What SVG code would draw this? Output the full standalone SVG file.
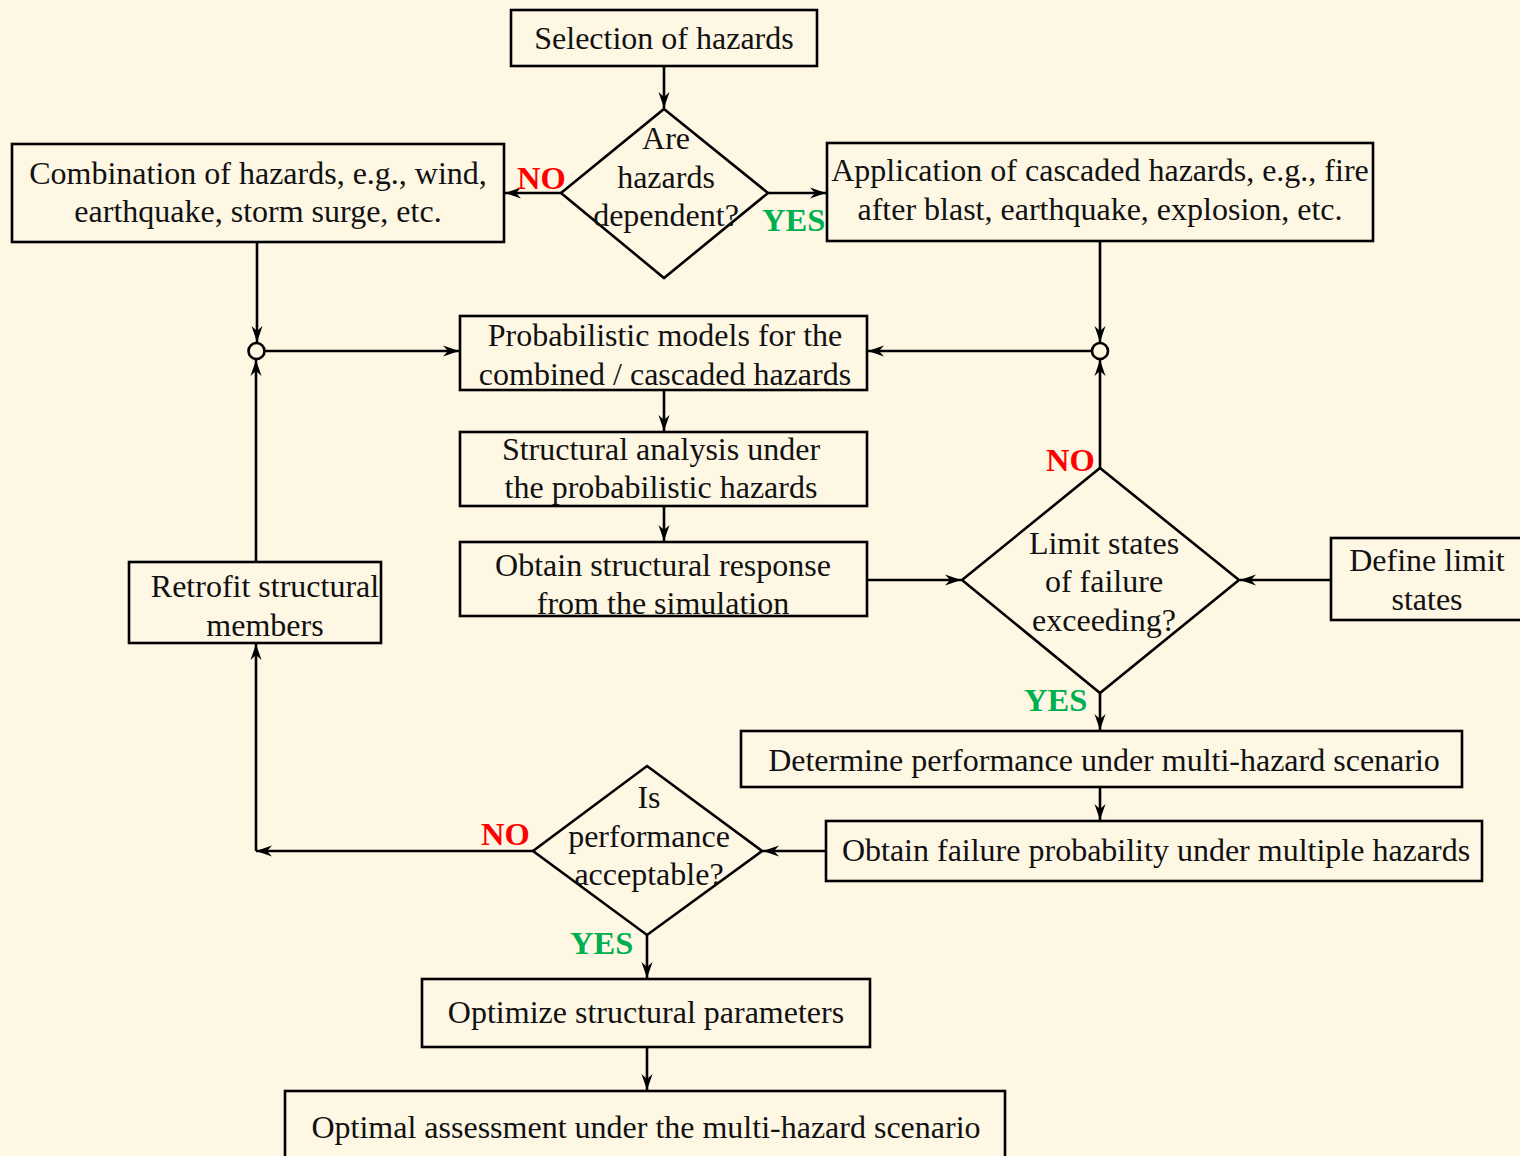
<svg xmlns="http://www.w3.org/2000/svg" width="1520" height="1156" viewBox="0 0 1520 1156">
<style>
.bx{fill:none;stroke:#000;stroke-width:2.6}
.t{font-family:"Liberation Serif","Times New Roman",serif;font-size:32px;fill:#111;text-anchor:middle}
.no{font-family:"Liberation Serif","Times New Roman",serif;font-size:32.5px;font-weight:bold;fill:#ff0000}
.yes{font-family:"Liberation Serif","Times New Roman",serif;font-size:32.5px;font-weight:bold;fill:#00b050}
.ln{fill:none;stroke:#000;stroke-width:2.6}
.ar{marker-end:url(#ah)}
</style>
<defs>
<marker id="ah" markerUnits="userSpaceOnUse" viewBox="-17 -7 18 14" refX="0" refY="0" markerWidth="18" markerHeight="14" orient="auto">
<path d="M0,0 L-16,-5.5 L-11,0 L-16,5.5 Z" fill="#000"/>
</marker>
</defs>
<rect x="0" y="0" width="1520" height="1156" fill="#fef7e4"/>
<g id="connectors">
<path class="ln ar" d="M664,66 V108"/>
<path class="ln ar" d="M561,193 H505"/>
<path class="ln ar" d="M768,193 H826"/>
<path class="ln ar" d="M257,242 V342"/>
<path class="ln ar" d="M1100,241 V342"/>
<path class="ln ar" d="M265,351 H459"/>
<path class="ln ar" d="M1091,351 H868"/>
<path class="ln ar" d="M664,390 V431"/>
<path class="ln ar" d="M664,506 V541"/>
<path class="ln ar" d="M867,580 H961"/>
<path class="ln ar" d="M1331,580 H1240"/>
<path class="ln ar" d="M1100,468 V360"/>
<path class="ln ar" d="M1100,693 V730"/>
<path class="ln ar" d="M1100,787 V820"/>
<path class="ln ar" d="M826,851 H763"/>
<path class="ln ar" d="M533,851 H256"/>
<path class="ln ar" d="M256,851 V644"/>
<path class="ln ar" d="M256,562 V360"/>
<path class="ln ar" d="M647,935 V978"/>
<path class="ln ar" d="M647,1047 V1090"/>
<circle cx="256.5" cy="351" r="8" fill="#fef7e4" stroke="#000" stroke-width="2.6"/>
<circle cx="1100" cy="351" r="8" fill="#fef7e4" stroke="#000" stroke-width="2.6"/>
</g>
<g id="n-selection"><rect class="bx" x="511" y="10" width="306" height="56"/><text class="t" x="664" y="49">Selection of hazards</text></g>
<g id="n-dependent"><polygon class="bx" points="664,109 768,193 664,278 561,193"/>
<text class="t" x="666" y="149">Are</text><text class="t" x="666" y="188">hazards</text><text class="t" x="666" y="226">dependent?</text></g>
<g id="n-combination"><rect class="bx" x="12" y="144" width="492" height="98"/>
<text class="t" x="258" y="184">Combination of hazards, e.g., wind,</text><text class="t" x="258" y="222">earthquake, storm surge, etc.</text></g>
<g id="n-cascaded"><rect class="bx" x="827" y="143" width="546" height="98"/>
<text class="t" x="1100" y="181">Application of cascaded hazards, e.g., fire</text><text class="t" x="1100" y="220">after blast, earthquake, explosion, etc.</text></g>
<g id="n-prob"><rect class="bx" x="460" y="316" width="407" height="74"/>
<text class="t" x="665" y="346">Probabilistic models for the</text><text class="t" x="665" y="385">combined / cascaded hazards</text></g>
<g id="n-analysis"><rect class="bx" x="460" y="432" width="407" height="74"/>
<text class="t" x="661" y="460">Structural analysis under</text><text class="t" x="661" y="498">the probabilistic hazards</text></g>
<g id="n-response"><rect class="bx" x="460" y="542" width="407" height="74"/>
<text class="t" x="663" y="576">Obtain structural response</text><text class="t" x="663" y="614">from the simulation</text></g>
<g id="n-limit"><polygon class="bx" points="1100,468 1239,580 1100,693 962,580"/>
<text class="t" x="1104" y="554">Limit states</text><text class="t" x="1104" y="592">of failure</text><text class="t" x="1104" y="631">exceeding?</text></g>
<g id="n-define"><rect class="bx" x="1331" y="538" width="192" height="82"/>
<text class="t" x="1427" y="571">Define limit</text><text class="t" x="1427" y="610">states</text></g>
<g id="n-retrofit"><rect class="bx" x="129" y="562" width="252" height="81"/>
<text class="t" x="265" y="597">Retrofit structural</text><text class="t" x="265" y="636">members</text></g>
<g id="n-determine"><rect class="bx" x="741" y="731" width="721" height="56"/>
<text class="t" x="1104" y="771">Determine performance under multi-hazard scenario</text></g>
<g id="n-failure"><rect class="bx" x="826" y="821" width="656" height="60"/>
<text class="t" x="1156" y="861">Obtain failure probability under multiple hazards</text></g>
<g id="n-acceptable"><polygon class="bx" points="647,766 762,851 647,935 533,851"/>
<text class="t" x="649" y="808">Is</text><text class="t" x="649" y="847">performance</text><text class="t" x="649" y="885">acceptable?</text></g>
<g id="n-optimize"><rect class="bx" x="422" y="979" width="448" height="68"/>
<text class="t" x="646" y="1023">Optimize structural parameters</text></g>
<g id="n-optimal"><rect class="bx" x="285" y="1091" width="720" height="80"/>
<text class="t" x="646" y="1138">Optimal assessment under the multi-hazard scenario</text></g>
<g id="labels">
<text class="no" x="517" y="189">NO</text>
<text class="yes" x="762" y="231">YES</text>
<text class="no" x="1046" y="471">NO</text>
<text class="yes" x="1024" y="711">YES</text>
<text class="no" x="481" y="845">NO</text>
<text class="yes" x="570" y="954">YES</text>
</g>
</svg>
